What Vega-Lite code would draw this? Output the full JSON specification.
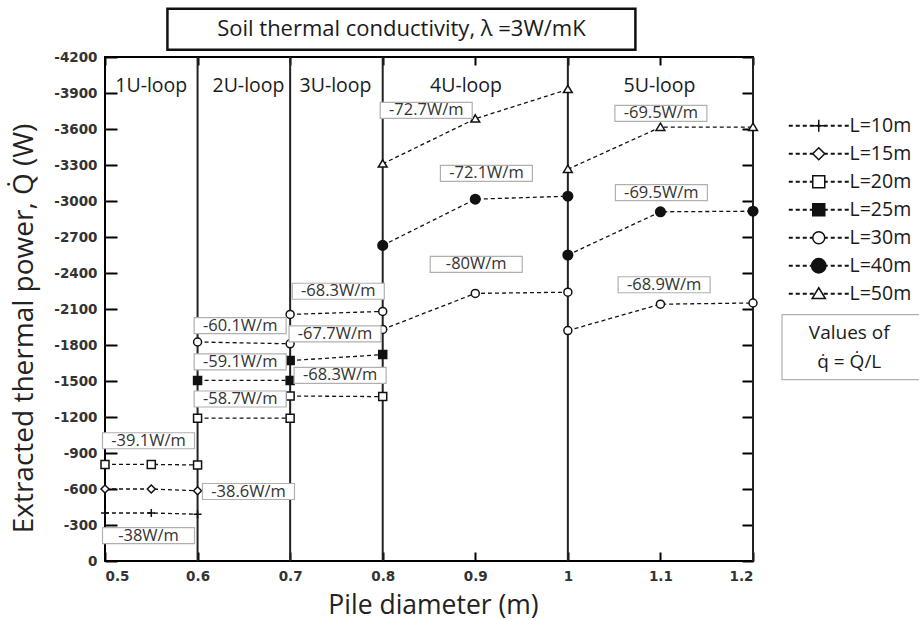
{
  "$schema": "https://vega.github.io/schema/vega-lite/v6.json",
  "width": 648,
  "height": 504,
  "autosize": {"type": "none"},
  "padding": {"left": 105, "top": 57, "right": 166, "bottom": 59},
  "background": "white",
  "config": {
    "view": {"stroke": "black", "strokeWidth": 2},
    "axis": {
      "grid": false,
      "domain": false,
      "tickColor": "black",
      "tickWidth": 2,
      "labelFont": "DejaVu Sans",
      "labelFontWeight": "bold",
      "labelFontSize": 13.5,
      "labelColor": "#333333",
      "titleFont": "Open Sans",
      "titleFontWeight": "normal",
      "titleFontSize": 26.5,
      "titleColor": "#222222"
    },
    "text": {"font": "Open Sans"}
  },
  "datasets": {
    "series": [
      {"loop": "1U", "L": "L=10m", "d": 0.5, "Q": -400},
      {"loop": "1U", "L": "L=10m", "d": 0.55, "Q": -400},
      {"loop": "1U", "L": "L=10m", "d": 0.6, "Q": -390},
      {"loop": "1U", "L": "L=15m", "d": 0.5, "Q": -600},
      {"loop": "1U", "L": "L=15m", "d": 0.55, "Q": -600},
      {"loop": "1U", "L": "L=15m", "d": 0.6, "Q": -585},
      {"loop": "1U", "L": "L=20m", "d": 0.5, "Q": -805},
      {"loop": "1U", "L": "L=20m", "d": 0.55, "Q": -805},
      {"loop": "1U", "L": "L=20m", "d": 0.6, "Q": -800},
      {"loop": "2U", "L": "L=20m", "d": 0.6, "Q": -1190},
      {"loop": "2U", "L": "L=20m", "d": 0.7, "Q": -1190},
      {"loop": "2U", "L": "L=25m", "d": 0.6, "Q": -1505},
      {"loop": "2U", "L": "L=25m", "d": 0.7, "Q": -1505},
      {"loop": "2U", "L": "L=30m", "d": 0.6, "Q": -1825},
      {"loop": "2U", "L": "L=30m", "d": 0.7, "Q": -1810},
      {"loop": "3U", "L": "L=20m", "d": 0.7, "Q": -1375},
      {"loop": "3U", "L": "L=20m", "d": 0.8, "Q": -1370},
      {"loop": "3U", "L": "L=25m", "d": 0.7, "Q": -1670},
      {"loop": "3U", "L": "L=25m", "d": 0.8, "Q": -1720},
      {"loop": "3U", "L": "L=30m", "d": 0.7, "Q": -2055},
      {"loop": "3U", "L": "L=30m", "d": 0.8, "Q": -2080},
      {"loop": "4U", "L": "L=30m", "d": 0.8, "Q": -1930},
      {"loop": "4U", "L": "L=30m", "d": 0.9, "Q": -2230},
      {"loop": "4U", "L": "L=30m", "d": 1.0, "Q": -2240},
      {"loop": "4U", "L": "L=40m", "d": 0.8, "Q": -2630},
      {"loop": "4U", "L": "L=40m", "d": 0.9, "Q": -3015},
      {"loop": "4U", "L": "L=40m", "d": 1.0, "Q": -3040},
      {"loop": "4U", "L": "L=50m", "d": 0.8, "Q": -3310},
      {"loop": "4U", "L": "L=50m", "d": 0.9, "Q": -3685},
      {"loop": "4U", "L": "L=50m", "d": 1.0, "Q": -3930},
      {"loop": "5U", "L": "L=30m", "d": 1.0, "Q": -1920},
      {"loop": "5U", "L": "L=30m", "d": 1.1, "Q": -2140},
      {"loop": "5U", "L": "L=30m", "d": 1.2, "Q": -2150},
      {"loop": "5U", "L": "L=40m", "d": 1.0, "Q": -2550},
      {"loop": "5U", "L": "L=40m", "d": 1.1, "Q": -2910},
      {"loop": "5U", "L": "L=40m", "d": 1.2, "Q": -2915},
      {"loop": "5U", "L": "L=50m", "d": 1.0, "Q": -3265},
      {"loop": "5U", "L": "L=50m", "d": 1.1, "Q": -3615},
      {"loop": "5U", "L": "L=50m", "d": 1.2, "Q": -3615}
    ],
    "loops": [
      {"label": "1U-loop", "labelx": 0.55, "end": 0.6},
      {"label": "2U-loop", "labelx": 0.655, "end": 0.7},
      {"label": "3U-loop", "labelx": 0.749, "end": 0.8},
      {"label": "4U-loop", "labelx": 0.89, "end": 1.0},
      {"label": "5U-loop", "labelx": 1.099, "end": 1.2}
    ],
    "notes": [
      {"t": "-72.7W/m", "x": 0.847, "y": -3756},
      {"t": "-69.5W/m", "x": 1.1005, "y": -3731},
      {"t": "-72.1W/m", "x": 0.912, "y": -3231},
      {"t": "-69.5W/m", "x": 1.101, "y": -3070},
      {"t": "-80W/m", "x": 0.901, "y": -2472},
      {"t": "-68.9W/m", "x": 1.104, "y": -2302},
      {"t": "-68.3W/m", "x": 0.752, "y": -2248},
      {"t": "-60.1W/m", "x": 0.646, "y": -1962},
      {"t": "-67.7W/m", "x": 0.7485, "y": -1893},
      {"t": "-59.1W/m", "x": 0.646, "y": -1660},
      {"t": "-68.3W/m", "x": 0.754, "y": -1547},
      {"t": "-58.7W/m", "x": 0.646, "y": -1350},
      {"t": "-39.1W/m", "x": 0.547, "y": -1002},
      {"t": "-38.6W/m", "x": 0.655, "y": -579},
      {"t": "-38W/m", "x": 0.547, "y": -212}
    ]
  },
  "layer": [
    {
      "data": {"name": "loops"},
      "mark": {"type": "rule", "stroke": "#222222", "strokeWidth": 2},
      "encoding": {
        "x": {"field": "end", "type": "quantitative", "scale": {"domain": [0.5, 1.2], "nice": false, "zero": false}, "axis": null}
      }
    },
    {
      "data": {"name": "loops"},
      "mark": {"type": "text", "fontSize": 19.5, "color": "#1a1a1a", "baseline": "middle", "align": "center"},
      "encoding": {
        "x": {"field": "labelx", "type": "quantitative", "scale": {"domain": [0.5, 1.2], "nice": false, "zero": false}, "axis": null},
        "y": {"datum": -3960, "type": "quantitative", "scale": {"domain": [0, -4200], "nice": false, "zero": false}, "axis": null},
        "text": {"field": "label"}
      }
    },
    {
      "data": {"name": "series"},
      "mark": {"type": "line", "stroke": "#111111", "strokeWidth": 1.3},
      "encoding": {
        "x": {
          "field": "d", "type": "quantitative",
          "scale": {"domain": [0.5, 1.2], "nice": false, "zero": false},
          "axis": {"orient": "bottom", "title": "Pile diameter (m)", "values": [0.5, 0.6, 0.7, 0.8, 0.9, 1.0, 1.1, 1.2], "format": "~g", "tickSize": -9, "labelPadding": 17, "titleX": 328, "titleY": 44, "titleBaseline": "middle", "titleAlign": "center"}
        },
        "y": {
          "field": "Q", "type": "quantitative",
          "scale": {"domain": [0, -4200], "nice": false, "zero": false},
          "axis": {"orient": "left", "title": "Extracted thermal power, Q\u0307 (W)", "titleFontSize": 28, "values": [0, -300, -600, -900, -1200, -1500, -1800, -2100, -2400, -2700, -3000, -3300, -3600, -3900, -4200], "format": "d", "labelExpr": "replace(datum.label, '\u2212', '-')", "tickSize": -12, "labelPadding": 20, "titleX": -81, "titleY": 271, "titleBaseline": "middle", "titleAlign": "center", "titleAngle": 270}
        },
        "strokeDash": {
          "field": "L", "type": "nominal",
          "scale": {
            "domain": ["L=50m", "L=40m", "L=30m", "L=25m", "L=20m", "L=15m", "L=10m"],
            "range": [[4, 3], [4, 3], [4, 3], [4, 3], [4, 3], [4, 3], [4, 3]]
          },
          "legend": {
            "title": null,
            "orient": "none",
            "legendX": 674,
            "legendY": 59,
            "padding": 0,
            "zindex": 0,
            "symbolType": "M0,0H10",
            "symbolSize": 144,
            "symbolStrokeWidth": 2,
            "symbolStrokeColor": "#111111",
            "labelOffset": 21,
            "rowPadding": 7,
            "labelFont": "Open Sans",
            "labelFontSize": 19.5,
            "labelColor": "transparent"
          }
        },
        "detail": [{"field": "loop"}, {"field": "L"}]
      }
    },
    {
      "data": {"name": "series"},
      "mark": {"type": "point", "stroke": "#111111", "strokeWidth": 1.5, "opacity": 1, "size": 64},
      "encoding": {
        "x": {"field": "d", "type": "quantitative", "scale": {"domain": [0.5, 1.2], "nice": false, "zero": false}, "axis": null},
        "y": {"field": "Q", "type": "quantitative", "scale": {"domain": [0, -4200], "nice": false, "zero": false}, "axis": null},
        "shape": {
          "field": "L", "type": "nominal",
          "scale": {
            "domain": ["L=10m", "L=15m", "L=20m", "L=25m", "L=30m", "L=40m", "L=50m"],
            "range": [
              "M-1,0H1M0,-1V1",
              "M0,-1L1,0L0,1L-1,0Z",
              "M-1,-1H1V1H-1Z",
              "M-1,-1H1V1H-1Z",
              "M1,0A1,1,0,1,1,-1,0A1,1,0,1,1,1,0Z",
              "M1.2,0A1.2,1.2,0,1,1,-1.2,0A1.2,1.2,0,1,1,1.2,0Z",
              "M0,-1L1.1,0.8H-1.1Z"
            ]
          },
          "legend": {
            "title": null,
            "orient": "none",
            "legendX": 704,
            "legendY": 59,
            "padding": 0,
            "zindex": 1,
            "symbolSize": 144,
            "labelOffset": 21,
            "rowPadding": 7,
            "labelFont": "Open Sans",
            "labelFontSize": 19.5,
            "labelColor": "#1a1a1a"
          }
        },
        "fill": {
          "field": "L", "type": "nominal",
          "scale": {
            "domain": ["L=10m", "L=15m", "L=20m", "L=25m", "L=30m", "L=40m", "L=50m"],
            "range": ["white", "white", "white", "#111111", "white", "#111111", "white"]
          },
          "legend": null
        }
      }
    },
    {
      "data": {"name": "notes"},
      "mark": {"type": "point", "shape": "M-2.875,-0.5H2.875V0.5H-2.875Z", "size": 1024, "filled": true, "fill": "white", "stroke": "#b0b0b0", "strokeWidth": 1.2, "opacity": 1},
      "encoding": {
        "x": {"field": "x", "type": "quantitative", "scale": {"domain": [0.5, 1.2], "nice": false, "zero": false}, "axis": null},
        "y": {"field": "y", "type": "quantitative", "scale": {"domain": [0, -4200], "nice": false, "zero": false}, "axis": null}
      }
    },
    {
      "data": {"name": "notes"},
      "mark": {"type": "text", "fontSize": 16.5, "color": "#333333", "align": "center", "baseline": "middle"},
      "encoding": {
        "x": {
          "field": "x", "type": "quantitative",
          "scale": {"domain": [0.5, 1.2], "nice": false, "zero": false},
          "axis": {"orient": "top", "labels": false, "title": null, "values": [0.5, 0.6, 0.7, 0.8, 0.9, 1.0, 1.1, 1.2], "tickSize": -8}
        },
        "y": {
          "field": "y", "type": "quantitative",
          "scale": {"domain": [0, -4200], "nice": false, "zero": false},
          "axis": {"orient": "right", "labels": false, "title": null, "values": [0, -300, -600, -900, -1200, -1500, -1800, -2100, -2400, -2700, -3000, -3300, -3600, -3900, -4200], "tickSize": -11}
        },
        "text": {"field": "t"}
      }
    },
    {
      "data": {"values": [{"t": "Soil thermal conductivity, \u03bb =3W/mK"}]},
      "mark": {"type": "point", "shape": "M-5.707,-0.5H5.707V0.5H-5.707Z", "size": 6724, "filled": true, "fill": "white", "stroke": "#111111", "strokeWidth": 2.5, "opacity": 1},
      "encoding": {
        "x": {"datum": 0.8202, "type": "quantitative", "scale": {"domain": [0.5, 1.2], "nice": false, "zero": false}, "axis": null},
        "y": {"datum": -4432, "type": "quantitative", "scale": {"domain": [0, -4200], "nice": false, "zero": false}, "axis": null}
      }
    },
    {
      "data": {"values": [{"t": "Soil thermal conductivity, \u03bb =3W/mK"}]},
      "mark": {"type": "text", "fontSize": 22, "color": "#1a1a1a", "align": "center", "baseline": "middle"},
      "encoding": {
        "x": {"datum": 0.8202, "type": "quantitative", "scale": {"domain": [0.5, 1.2], "nice": false, "zero": false}, "axis": null},
        "y": {"datum": -4432, "type": "quantitative", "scale": {"domain": [0, -4200], "nice": false, "zero": false}, "axis": null},
        "text": {"field": "t"}
      }
    },
    {
      "data": {"values": [{"t": "Values of\nq\u0307 = Q\u0307/L"}]},
      "mark": {"type": "point", "shape": "M-1.092,-0.5H1.092V0.5H-1.092Z", "size": 16900, "filled": true, "fill": "white", "stroke": "#b0b0b0", "strokeWidth": 1.2, "opacity": 1},
      "encoding": {
        "x": {"datum": 1.308, "type": "quantitative", "scale": {"domain": [0.5, 1.2], "nice": false, "zero": false}, "axis": null},
        "y": {"datum": -1783, "type": "quantitative", "scale": {"domain": [0, -4200], "nice": false, "zero": false}, "axis": null}
      }
    },
    {
      "data": {"values": [{"t": "Values of\nq\u0307 = Q\u0307/L"}]},
      "mark": {"type": "text", "fontSize": 19, "color": "#1a1a1a", "align": "center", "baseline": "middle", "lineBreak": "\n", "lineHeight": 29},
      "encoding": {
        "x": {"datum": 1.304, "type": "quantitative", "scale": {"domain": [0.5, 1.2], "nice": false, "zero": false}, "axis": null},
        "y": {"datum": -1897, "type": "quantitative", "scale": {"domain": [0, -4200], "nice": false, "zero": false}, "axis": null},
        "text": {"field": "t"}
      }
    }
  ],
  "resolve": {"axis": {"x": "independent", "y": "independent"}}
}
